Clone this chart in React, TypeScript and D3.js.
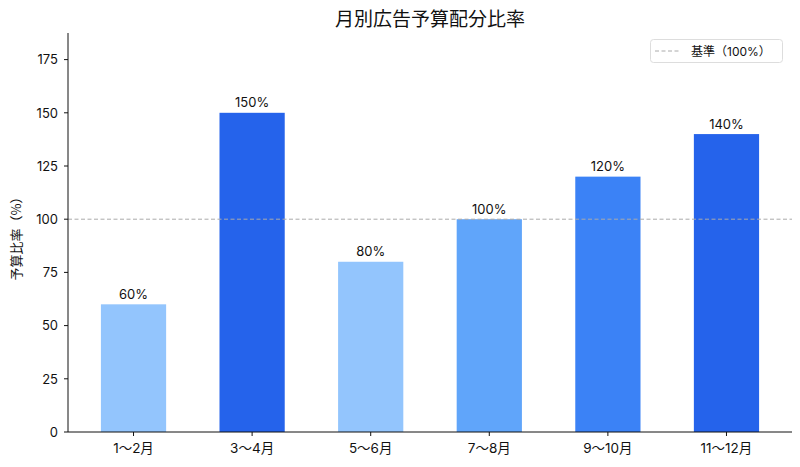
import React from "react";
import * as d3 from "d3";

const categories = ["1〜2月", "3〜4月", "5〜6月", "7〜8月", "9〜10月", "11〜12月"];
const values = [60, 150, 80, 100, 120, 140];
const barColors = ["#93c5fd", "#2563eb", "#93c5fd", "#60a5fa", "#3b82f6", "#2563eb"];
const yTicks = [0, 25, 50, 75, 100, 125, 150, 175];
const baseline = 100;
const title = "月別広告予算配分比率";
const yLabel = "予算比率（%）";
const legendLabel = "基準（100%）";

const W = 800;
const H = 467;
const left = 68;
const right = 792;
const top = 33;
const bottom = 432;
const font = "Inter, 'Noto Sans CJK JP', 'Noto Sans', sans-serif";
const cjk = "'Noto Sans CJK JP', sans-serif";

export default function App() {
  const barW = 0.55;
  const n = categories.length;
  const x = d3.scaleLinear().domain([-barW / 2 - 0.05 * (n - 1 + barW), n - 1 + barW / 2 + 0.05 * (n - 1 + barW)]).range([left, right]);
  const y = d3.scaleLinear().domain([0, 187.5]).range([bottom, top]);
  const wPx = x(barW) - x(0);

  return (
    <svg width={W} height={H} style={{ position: "absolute", left: 0, top: 0, background: "#fff" }} fontFamily={font}>
      <text x={(left + right) / 2} y={26} textAnchor="middle" fontSize={19} fill="#111" fontFamily={cjk}>{title}</text>
      {values.map((v, i) => (
        <g key={i}>
          <rect x={x(i) - wPx / 2} y={y(v)} width={wPx} height={y(0) - y(v)} fill={barColors[i]} />
          <text x={x(i)} y={y(v) - 5.5} textAnchor="middle" fontSize={13} fill="#111">{v}%</text>
        </g>
      ))}
      <line x1={left} x2={right} y1={y(baseline)} y2={y(baseline)} stroke="#aaa" strokeWidth={1} strokeDasharray="4,2.5" />
      {/* axes */}
      <line x1={left} x2={left} y1={top} y2={bottom} stroke="#111" strokeWidth={1} />
      <line x1={left} x2={right} y1={bottom} y2={bottom} stroke="#111" strokeWidth={1} />
      {yTicks.map((t) => (
        <g key={t}>
          <line x1={left - 4} x2={left} y1={y(t)} y2={y(t)} stroke="#111" />
          <text x={left - 10} y={y(t) + 4.7} textAnchor="end" fontSize={13} fill="#111">{t}</text>
        </g>
      ))}
      {categories.map((c, i) => (
        <g key={c}>
          <line x1={x(i)} x2={x(i)} y1={bottom} y2={bottom + 4} stroke="#111" />
          <text x={x(i)} y={bottom + 21} textAnchor="middle" fontSize={13.5} fill="#111">{c}</text>
        </g>
      ))}
      <text transform={`translate(21,${(top + bottom) / 2 + 3}) rotate(-90)`} textAnchor="middle" fontSize={13} fill="#111" fontFamily={cjk}>{yLabel}</text>
      {/* legend */}
      <rect x={650.5} y={39.5} width={132} height={23} rx={3} fill="#fff" stroke="#ddd" />
      <line x1={655} x2={681} y1={51} y2={51} stroke="#aaa" strokeDasharray="4,2.5" />
      <text x={691} y={55.5} fontSize={12} fill="#111">{legendLabel}</text>
    </svg>
  );
}
